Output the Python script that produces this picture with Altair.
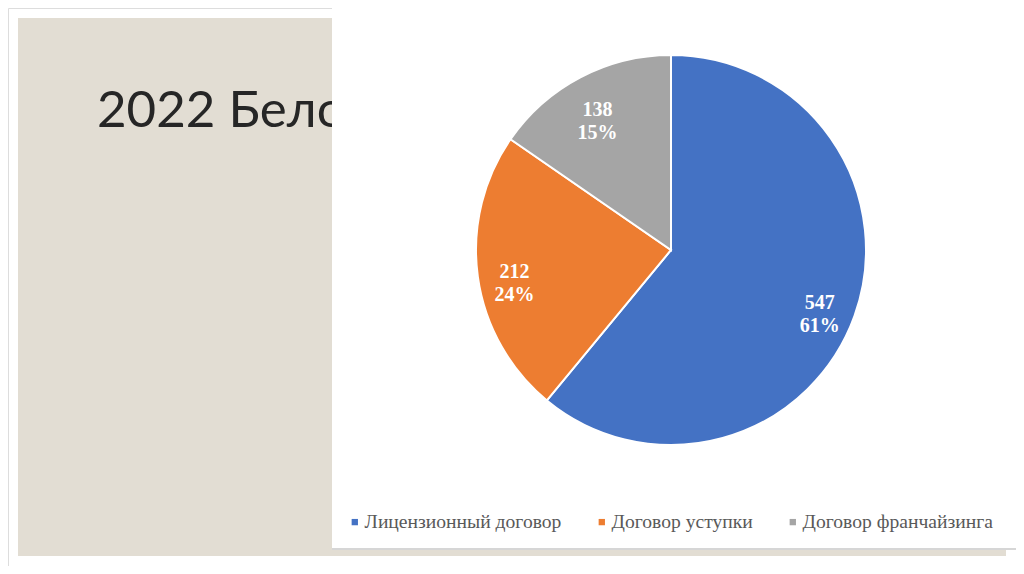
import altair as alt
import pandas as pd

# ---- data ----
categories = ["Лицензионный договор", "Договор уступки", "Договор франчайзинга"]
values = [547, 212, 138]
colors = ["#4472C4", "#ED7D31", "#A5A5A5"]
slide_title = ["2022 Белоруссия"]

total = sum(values)
df = pd.DataFrame({
    "cat": categories,
    "value": values,
    "order": list(range(len(values))),
    "label": [f"{v}\n{round(100 * v / total)}%" for v in values],
})

W, H = 1008, 558
CX, CY = 663, 242  # pie centre (chart coordinates)

one = pd.DataFrame({"k": [0]})

bg = alt.Chart(one).mark_rect(color="#E2DDD3").encode(
    x=alt.value(10), x2=alt.value(998), y=alt.value(10), y2=alt.value(548)
)

title = alt.Chart(pd.DataFrame({"t": slide_title})).mark_text(
    align="left", baseline="alphabetic", font="Lato", fontSize=51, color="#262626"
).encode(x=alt.value(89), y=alt.value(119), text="t:N")

shadow = alt.Chart(one).mark_rect(color="#D6D6D6").encode(
    x=alt.value(324), x2=alt.value(1008), y=alt.value(0), y2=alt.value(542)
)
box = alt.Chart(one).mark_rect(color="#FFFFFF").encode(
    x=alt.value(324), x2=alt.value(1008), y=alt.value(0), y2=alt.value(540)
)

base = alt.Chart(df)

arcs = base.mark_arc(outerRadius=195, stroke="white", strokeWidth=2).encode(
    theta=alt.Theta("value:Q", stack=True),
    order=alt.Order("order:Q"),
    color=alt.Color(
        "cat:N",
        scale=alt.Scale(domain=categories, range=colors),
        legend=alt.Legend(
            title=None,
            orient="none",
            legendX=337,
            legendY=504,
            direction="horizontal",
            columns=3,
            columnPadding=30,
            symbolType="square",
            symbolSize=40,
            symbolStrokeWidth=0,
            labelFont="Liberation Serif",
            labelFontSize=19.6,
            labelColor="#595959",
            labelOffset=0,
            labelLimit=400,
        ),
    ),
    x=alt.value(CX),
    y=alt.value(CY),
)

labels = base.mark_text(
    radius=158,
    font="Liberation Serif",
    fontSize=20,
    fontWeight="bold",
    color="white",
    lineBreak="\n",
    lineHeight=23,
    align="center",
    baseline="middle",
).encode(
    theta=alt.Theta("value:Q", stack=True),
    order=alt.Order("order:Q"),
    text="label:N",
    x=alt.value(CX),
    y=alt.value(CY),
)

chart = alt.layer(bg, title, shadow, box, arcs, labels).properties(
    width=W, height=H, autosize=alt.AutoSizeParams(type="none"), padding=0
).configure_view(strokeWidth=0, stroke="transparent").configure(background="white")

chart.save("out.html", embed_options={"renderer": "svg", "actions": False})
